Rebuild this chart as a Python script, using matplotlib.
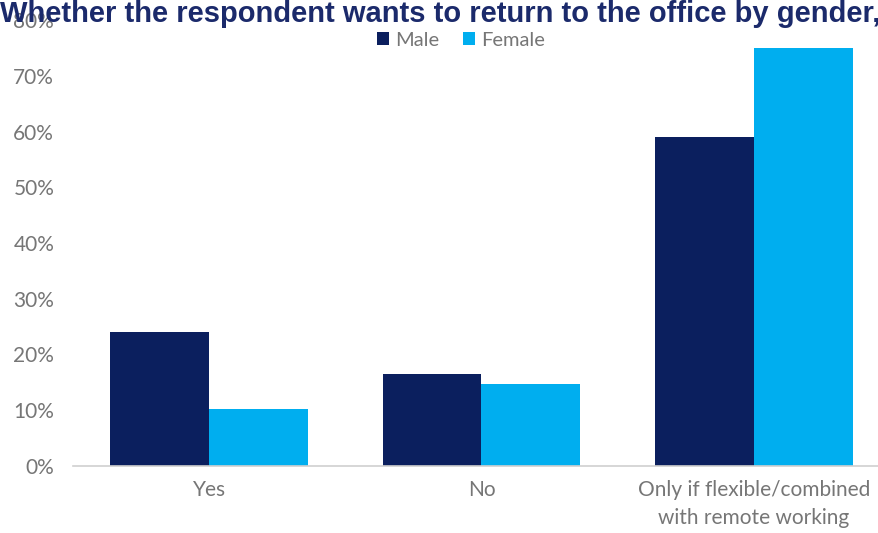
import matplotlib
matplotlib.use("Agg")
import matplotlib.pyplot as plt
import numpy as np

categories = ["Yes", "No", "Only if flexible/combined\nwith remote working"]
male = [24, 16.5, 59]
female = [10.2, 14.7, 75]
yticks = [0, 10, 20, 30, 40, 50, 60, 70, 80]
ytick_labels = ["0%", "10%", "20%", "30%", "40%", "50%", "60%", "70%", "80%"]
title = "Whether the respondent wants to return to the office by gender,"

plt.rcParams['font.family'] = ['Lato', 'DejaVu Sans']
fig = plt.figure(figsize=(8.79, 5.33), dpi=100)
W, H = 879, 533
left, right = 73, 890
bottom_px, top_px = 466, 20
ax = fig.add_axes([left / W, (H - bottom_px) / H, (right - left) / W, (bottom_px - top_px) / H])

x = np.arange(len(categories))
bw = 0.363
ax.bar(x - bw / 2, male, bw, color="#0b1f5e", label="Male")
ax.bar(x + bw / 2, female, bw, color="#00aeef", label="Female")

ax.set_xlim(-0.5, 2.5)
ax.set_ylim(0, 80)
ax.set_yticks(yticks)
ax.set_yticklabels(ytick_labels)
ax.set_xticks(x)
ax.set_xticklabels(categories, linespacing=1.5)
for s in ["top", "right", "left"]:
    ax.spines[s].set_visible(False)
ax.spines["bottom"].set_color("#d0d0d0")
ax.spines["bottom"].set_linewidth(1.2)
ax.tick_params(axis="both", length=0, colors="#767676", labelsize=15)
ax.tick_params(axis="x", pad=10)
ax.tick_params(axis="y", pad=13.5)

ax.legend(loc="center", bbox_to_anchor=(461 / W, 1 - 40 / H), bbox_transform=fig.transFigure,
          ncol=2, frameon=False, fontsize=14.5, handlelength=0.6, handleheight=0.6,
          handletextpad=0.3, columnspacing=1.2, labelcolor="#767676")

fig.text(0, 1.0, title, fontsize=21, fontweight="bold", color="#1b2a6b",
         family=["Liberation Sans", "DejaVu Sans"], ha="left", va="top")

fig.savefig("out.png", dpi=100)
